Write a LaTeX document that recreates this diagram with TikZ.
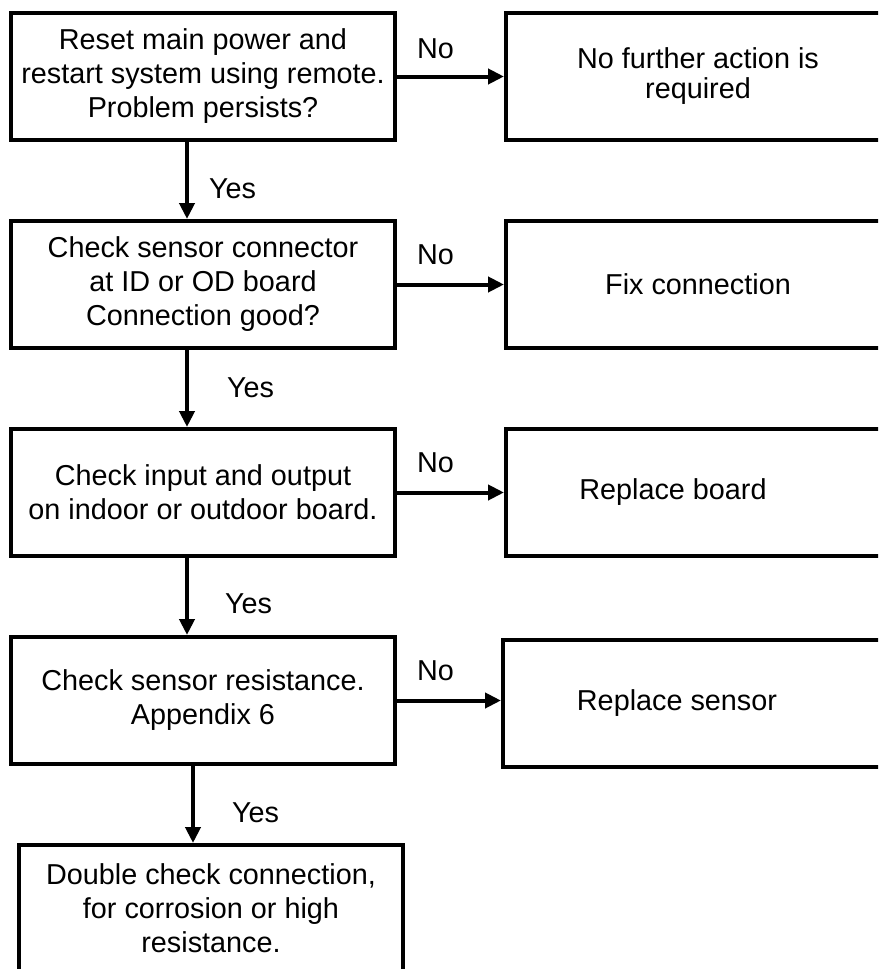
\documentclass[tikz,border=0pt]{standalone}
\usepackage{fontspec}
\setmainfont{Liberation Sans}
\usetikzlibrary{arrows.meta}

\begin{document}
\begin{tikzpicture}[x=0.5pt,y=-0.5pt,>={Triangle[length=8pt,width=7.5pt]},line width=2pt,
box/.style={draw,anchor=north west,minimum width=192pt,minimum height=63.5pt,inner sep=0pt,align=center,font=\fontsize{14.4pt}{17pt}\selectfont},
lbl/.style={anchor=base west,inner sep=0pt,font=\fontsize{14.4pt}{17pt}\selectfont}]
\useasboundingbox (0,0) rectangle (878,969);
\clip (0,0) rectangle (878,969);
\node[box] (q1) at (9,11) {Reset main power and\\restart system using remote.\\Problem persists?};
\node[box] (q2) at (9,219) {Check sensor connector\\at ID or OD board\\Connection good?};
\node[box] (q3) at (9,427) {Check input and output\\on indoor or outdoor board.};
\node[box] (q4) at (9,635) {Check sensor resistance.\\Appendix 6};
\node[box] (q5) at (17,843) {Double check connection,\\for corrosion or high\\resistance.};
\node[box,font=\fontsize{14.4pt}{15pt}\selectfont] (r1) at (504,11) {No further action is\\required};
\node[box] (r2) at (504,219) {Fix connection};
\node[box] (r3) at (504,427) {Replace board\hspace*{25pt}};
\node[box] (r4) at (501,638) {Replace sensor\hspace*{18pt}};
\draw[->](q1.east)--(q1.east -| r1.west)node[pos=0,lbl,xshift=9pt,yshift=9pt]{No};
\draw[->](q2.east)--(q2.east -| r2.west)node[pos=0,lbl,xshift=9pt,yshift=10pt]{No};
\draw[->](q3.east)--(q3.east -| r3.west)node[pos=0,lbl,xshift=9pt,yshift=10pt]{No};
\draw[->](q4.east)--(q4.east -| r4.west)node[pos=0,lbl,xshift=9pt,yshift=10pt]{No};
\draw[->]([xshift=-8pt]q1.south)--([xshift=-8pt]q1.south |- q2.north)node[midway,lbl,xshift=10pt,yshift=-9pt]{Yes};
\draw[->]([xshift=-8pt]q2.south)--([xshift=-8pt]q2.south |- q3.north)node[midway,lbl,xshift=19pt,yshift=-4.5pt]{Yes};
\draw[->]([xshift=-8pt]q3.south)--([xshift=-8pt]q3.south |- q4.north)node[midway,lbl,xshift=18pt,yshift=-8.5pt]{Yes};
\draw[->]([xshift=-5pt]q4.south)--([xshift=-5pt]q4.south |- q5.north)node[midway,lbl,xshift=18.5pt,yshift=-9pt]{Yes};
\end{tikzpicture}
\end{document}
